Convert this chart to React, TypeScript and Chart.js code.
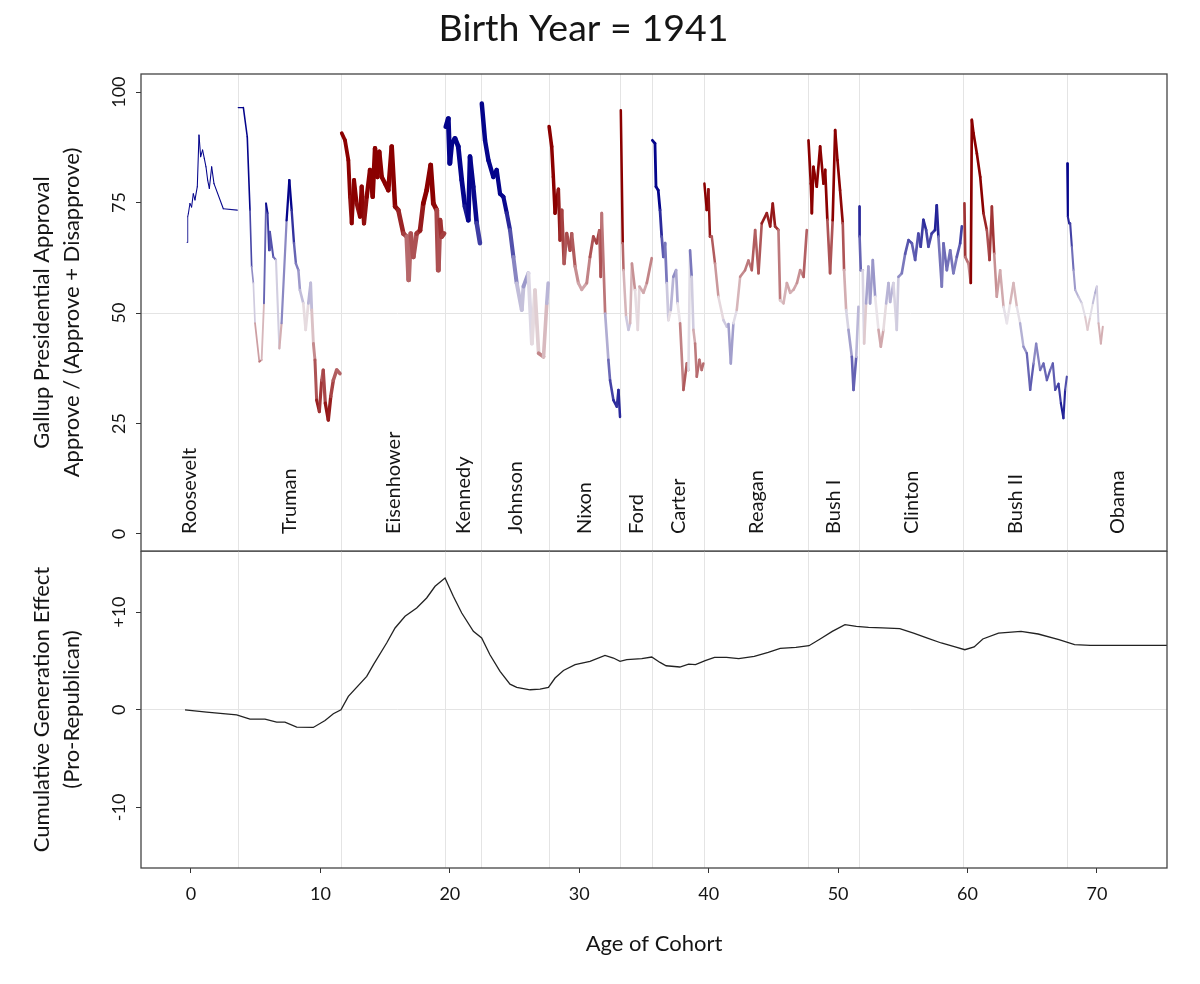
import { useEffect, useRef } from 'react';
import { Chart, registerables } from 'chart.js';

Chart.register(...registerables);

// ---------------- data ----------------
const PRESIDENTS = ['Roosevelt', 'Truman', 'Eisenhower', 'Kennedy', 'Johnson', 'Nixon', 'Ford', 'Carter', 'Reagan', 'Bush I', 'Clinton', 'Bush II', 'Obama'];
const PARTIES = ['D', 'D', 'R', 'D', 'D', 'R', 'R', 'D', 'R', 'R', 'D', 'R', 'D'];
// age of cohort (born 1941) when each term started
const TERM_STARTS = [-8.4, 3.66, 11.65, 19.65, 22.47, 27.67, 33.21, 35.65, 39.67, 47.71, 51.65, 59.69, 67.7];

// [age of cohort, approval %]
const ROOSEVELT = [[-0.3, 66], [-0.25, 71.8], [-0.2, 72.5], [-0.08, 74.8], [0.05, 74], [0.18, 77], [0.31, 75.6], [0.49, 78.6], [0.62, 90.3], [0.75, 85.4], [0.9, 86.9], [1.03, 85], [1.16, 83.1], [1.29, 80.1], [1.42, 78.2], [1.6, 83.1], [1.78, 79.3], [2.5, 73.6], [3.58, 73.3]];
const TRUMAN = [[3.66, 96.5], [4.05, 96.5], [4.35, 89.9], [4.56, 73.3], [4.69, 60.5], [4.82, 56.8], [4.95, 47.7], [5.28, 39], [5.46, 39.4], [5.64, 52.2], [5.8, 74.8], [5.92, 72.6], [6.03, 64.2], [6.1, 68.4], [6.36, 62.7], [6.57, 62], [6.83, 42], [7.0, 47.7], [7.39, 71], [7.6, 80.1], [7.78, 73.3], [7.96, 65.8], [8.11, 61.2], [8.3, 59.7], [8.42, 55.2], [8.68, 52.2], [8.86, 46.2], [9.07, 52.2], [9.25, 56.8], [9.33, 50.7], [9.46, 43.1], [9.58, 39.4], [9.71, 30.3], [9.92, 27.7], [10.1, 34.8], [10.22, 37.1], [10.38, 29.6], [10.61, 25.8], [10.8, 31.1], [11.0, 34.8], [11.26, 37.1], [11.51, 36.3]];
const EISENHOWER = [[11.65, 90.7], [11.9, 89.1], [12.16, 84.6], [12.29, 76.3], [12.42, 70.3], [12.6, 80.1], [12.8, 74.8], [13.06, 71.8], [13.19, 78.6], [13.37, 70.3], [13.58, 76.3], [13.83, 82.4], [14.04, 76.3], [14.22, 87.3], [14.4, 80.8], [14.55, 86.5], [14.74, 80.8], [15.0, 79.3], [15.25, 77.8], [15.51, 87.7], [15.77, 74.1], [16.02, 73.3], [16.41, 68], [16.67, 67.3], [16.82, 57.5], [16.98, 68], [17.18, 62.7], [17.44, 68], [17.7, 68.7], [17.95, 74.8], [18.21, 77.8], [18.52, 83.5], [18.73, 74.8], [18.99, 73.3], [19.11, 59.7], [19.24, 71], [19.37, 67.3], [19.55, 68]];
const KENNEDY = [[19.7, 92.2], [19.88, 94], [20.0, 83.9], [20.15, 88.4], [20.4, 89.5], [20.65, 87.7], [20.92, 80.1], [21.17, 74.1], [21.43, 71], [21.56, 85.4], [21.81, 78.6], [22.08, 70.3], [22.33, 65.8]];
const JOHNSON = [[22.47, 97.4], [22.72, 89.1], [22.98, 84.6], [23.36, 80.8], [23.62, 82.4], [23.88, 77], [24.14, 76.3], [24.4, 72.6], [24.65, 68.8], [24.91, 62.7], [25.17, 56.7], [25.56, 50.7], [25.69, 56], [26.07, 59], [26.34, 43.1], [26.58, 55.2], [26.86, 40.9], [27.24, 40.1], [27.49, 52.2], [27.6, 56.8]];
const NIXON = [[27.67, 92.2], [27.87, 87.7], [28.0, 80.8], [28.13, 72.6], [28.39, 78], [28.52, 66.5], [28.65, 73.3], [28.83, 61.2], [29.03, 68], [29.29, 64.2], [29.42, 68], [29.68, 60.5], [29.93, 56.8], [30.19, 55.3], [30.58, 56.8], [30.83, 62.7], [31.09, 67.3], [31.35, 65.8], [31.55, 68.7], [31.66, 58.2], [31.74, 72.6], [32.0, 49.9], [32.25, 39.4], [32.38, 34.8], [32.64, 30.3], [32.9, 28.8], [33.03, 32.6], [33.15, 26.5]];
const FORD = [[33.21, 95.9], [33.36, 65.8], [33.42, 59.7], [33.62, 49.1], [33.8, 46.2], [33.93, 47.7], [34.07, 61.2], [34.31, 55.2], [34.52, 46.2], [34.65, 56], [34.96, 54.6], [35.22, 56.8], [35.6, 62.4]];
const CARTER = [[35.65, 89.1], [35.85, 88.4], [35.93, 78.6], [36.1, 77.8], [36.24, 73.3], [36.37, 67.3], [36.5, 62.7], [36.63, 65.8], [36.76, 56.8], [36.89, 48.4], [37.07, 50.7], [37.27, 58.2], [37.48, 59.7], [37.6, 52.2], [37.79, 47.7], [38.05, 32.6], [38.31, 38.6], [38.44, 37.1], [38.56, 64.2], [38.69, 58.2], [38.82, 46.2], [38.95, 43.1], [39.08, 35.6], [39.28, 39.4], [39.46, 37.1], [39.59, 38.6]];
const REAGAN = [[39.67, 79.3], [39.85, 73.3], [39.98, 78], [40.1, 67.3], [40.24, 67.3], [40.49, 61.2], [40.75, 53.7], [41.14, 48.4], [41.4, 46.9], [41.53, 47.5], [41.71, 38.6], [41.91, 47.7], [42.17, 50.7], [42.43, 58.2], [42.81, 59.7], [43.07, 61.9], [43.33, 59.7], [43.59, 68.8], [43.85, 59], [44.1, 70.3], [44.49, 72.6], [44.75, 69.6], [44.95, 74.8], [45.13, 69.6], [45.39, 68.8], [45.52, 52.9], [45.78, 52.2], [46.04, 56.8], [46.3, 54.6], [46.56, 55.3], [46.82, 56.8], [47.07, 59.7], [47.33, 58.2], [47.58, 68.8]];
const BUSH_I = [[47.71, 89.1], [47.89, 79.3], [47.97, 72.6], [48.09, 83.1], [48.35, 78.6], [48.61, 87.7], [48.87, 79.3], [49.0, 82.4], [49.17, 71.1], [49.38, 59], [49.58, 71], [49.77, 91.4], [49.95, 84.6], [50.15, 77.8], [50.36, 70.3], [50.46, 59.7], [50.62, 50.7], [50.8, 46.2], [51.06, 40.1], [51.19, 32.6], [51.4, 40.1], [51.57, 51.4]];
const CLINTON = [[51.65, 74.1], [51.66, 67.3], [51.75, 59.7], [51.9, 59.7], [52.01, 43.1], [52.16, 52.2], [52.34, 60.5], [52.47, 52.2], [52.68, 62], [52.86, 53.7], [53.12, 46.2], [53.3, 42.4], [53.5, 46.2], [53.71, 52.2], [53.89, 56.8], [54.02, 52.5], [54.27, 56.8], [54.53, 46.2], [54.66, 58.2], [54.92, 59], [55.18, 63.4], [55.44, 66.5], [55.7, 65.8], [55.95, 62], [56.2, 68], [56.38, 65], [56.59, 71.1], [56.8, 68.8], [56.98, 65], [57.23, 68], [57.49, 68.8], [57.62, 74.4], [57.75, 67.3], [58.01, 56], [58.14, 65.8], [58.4, 59.7], [58.66, 64.2], [58.91, 59], [59.17, 62.7], [59.43, 65.8], [59.56, 69.6]];
const BUSH_II = [[59.76, 74.8], [59.82, 62.7], [60.07, 61.2], [60.25, 56.8], [60.33, 93.7], [60.46, 90.7], [60.72, 86.1], [60.98, 80.8], [61.23, 72.6], [61.49, 68.8], [61.7, 62], [61.88, 74.1], [62.06, 63.4], [62.26, 53.7], [62.52, 59.7], [62.78, 51.4], [63.04, 47.7], [63.29, 52.2], [63.55, 56.8], [63.81, 51.4], [64.06, 47.7], [64.32, 42.4], [64.58, 40.9], [64.84, 32.6], [65.1, 38.6], [65.3, 43.1], [65.61, 37.1], [65.87, 38.6], [66.13, 34.8], [66.38, 37.1], [66.59, 38.6], [66.77, 32.6], [67.03, 34], [67.21, 29.6], [67.41, 26.2], [67.54, 32.6], [67.67, 35.6]];
const OBAMA = [[67.7, 83.9], [67.75, 71.8], [67.85, 70.3], [67.93, 70.3], [68.06, 65], [68.19, 59.7], [68.32, 55.2], [68.57, 53.7], [68.83, 52.2], [69.09, 49.1], [69.27, 46.2], [69.47, 49.1], [69.68, 52.2], [69.86, 54.6], [69.99, 56], [70.12, 47.7], [70.3, 43.1], [70.45, 46.9]];
const APPROVAL = [ROOSEVELT, TRUMAN, EISENHOWER, KENNEDY, JOHNSON, NIXON, FORD, CARTER, REAGAN, BUSH_I, CLINTON, BUSH_II, OBAMA];

// [age of cohort, cumulative generation effect]
const EFFECT = [[-0.46, 0], [1.21, -0.24], [3.53, -0.51], [4.56, -0.96], [5.72, -0.96], [6.62, -1.26], [7.26, -1.26], [8.17, -1.78], [9.45, -1.81], [10.36, -1.09], [11.0, -0.41], [11.59, 0], [12.16, 1.37], [13.58, 3.42], [14.1, 4.62], [15.12, 6.84], [15.77, 8.38], [16.54, 9.57], [17.44, 10.43], [18.21, 11.45], [18.86, 12.65], [19.63, 13.5], [20.27, 11.62], [20.92, 9.91], [21.82, 8.03], [22.46, 7.35], [23.1, 5.64], [23.88, 3.93], [24.65, 2.63], [25.17, 2.29], [26.2, 2.05], [26.97, 2.12], [27.62, 2.29], [28.13, 3.25], [28.78, 4.03], [29.68, 4.62], [30.83, 4.96], [31.99, 5.57], [32.64, 5.3], [33.15, 4.96], [33.67, 5.13], [34.83, 5.23], [35.6, 5.4], [36.24, 4.85], [36.71, 4.51], [37.77, 4.38], [38.45, 4.68], [38.98, 4.62], [39.73, 5.03], [40.45, 5.37], [41.38, 5.37], [42.32, 5.23], [43.52, 5.47], [44.6, 5.88], [45.53, 6.29], [46.74, 6.39], [47.75, 6.56], [48.61, 7.25], [49.55, 8.03], [50.53, 8.72], [51.41, 8.55], [52.35, 8.44], [53.42, 8.38], [54.76, 8.31], [55.83, 7.86], [56.9, 7.35], [57.97, 6.84], [59.04, 6.43], [59.79, 6.15], [60.51, 6.43], [61.18, 7.25], [62.39, 7.86], [64.13, 8.03], [65.46, 7.76], [67.06, 7.18], [68.27, 6.67], [69.48, 6.6], [75.41, 6.6]];

const X_TICKS = [0, 10, 20, 30, 40, 50, 60, 70];
const APPROVAL_TICKS = [0, 25, 50, 75, 100];
const EFFECT_TICKS = [-10, 0, 10];

// ---------------- axis ranges & styles ----------------
const X_MIN = -3.86;
const X_MAX = 75.41;
const FONT = 'Lato, "Open Sans", "DejaVu Sans", sans-serif';
const GRID = '#e4e4e4';
const TICK = '#333333';
const TEXT = '#151515';
const CLEAR = 'rgba(0,0,0,0)';

Chart.defaults.font.family = FONT;

const WIDTH_KNOTS = [[-4, 1], [3.6, 1.1], [4, 1.5], [8, 2.4], [11, 3.5], [14, 4.4], [20, 4.9], [22.5, 4.5], [27.5, 3.6], [33, 2.5], [36, 2.8], [40, 2.5], [48, 2.7], [52, 2.6], [60, 2.7], [68, 2.1], [76, 1.8]];
function widthAt(age: number): number {
  for (let i = 1; i < WIDTH_KNOTS.length; i++) {
    const [a0, w0] = WIDTH_KNOTS[i - 1];
    const [a1, w1] = WIDTH_KNOTS[i];
    if (age <= a1) return w0 + ((Math.max(age, a0) - a0) / (a1 - a0)) * (w1 - w0);
  }
  return WIDTH_KNOTS[WIDTH_KNOTS.length - 1][1];
}

function colorFor(v: number, party: string): string {
  const d = (v - 50) * (party === 'R' ? 1 : -1);
  const t = Math.pow(Math.min(1, Math.abs(d) / 25), 0.9);
  const base = [234, 229, 234];
  const dark = d >= 0 ? [139, 0, 0] : [4, 4, 139];
  const c = base.map((b, k) => Math.round(b + (dark[k] - b) * t));
  return `rgb(${c[0]},${c[1]},${c[2]})`;
}

const framePlugin = {
  id: 'frame',
  afterDraw(chart: any) {
    const { ctx, chartArea: a } = chart;
    ctx.save();
    ctx.strokeStyle = '#444444';
    ctx.lineWidth = 1.3;
    ctx.strokeRect(a.left, a.top, a.right - a.left, a.bottom - a.top);
    ctx.restore();
  },
};

const presidentLabels = {
  id: 'presidentLabels',
  afterDatasetsDraw(chart: any) {
    const xs = chart.scales.x;
    const ys = chart.scales.y;
    const ctx = chart.ctx;
    ctx.save();
    ctx.font = `20px ${FONT}`;
    ctx.fillStyle = TEXT;
    ctx.textAlign = 'left';
    ctx.textBaseline = 'middle';
    PRESIDENTS.forEach((name, i) => {
      const start = Math.max(TERM_STARTS[i], xs.min);
      const end = i + 1 < TERM_STARTS.length ? TERM_STARTS[i + 1] : xs.max;
      const px = xs.getPixelForValue((start + end) / 2);
      const py = ys.getPixelForValue(0);
      ctx.save();
      ctx.translate(px, py);
      ctx.rotate(-Math.PI / 2);
      ctx.fillText(name, 0, 0);
      ctx.restore();
    });
    ctx.restore();
  },
};

function yTickOptions() {
  return {
    minRotation: 90,
    maxRotation: 90,
    crossAlign: 'center' as const,
    padding: 1,
    font: { size: 18 },
    color: TEXT,
  };
}

export default function App() {
  const topRef = useRef<HTMLCanvasElement>(null);
  const bottomRef = useRef<HTMLCanvasElement>(null);

  useEffect(() => {
    const topChart = new Chart(topRef.current as HTMLCanvasElement, {
      type: 'line',
      data: {
        datasets: APPROVAL.map((pts, i) => ({
          label: PRESIDENTS[i],
          data: pts.map(([x, y]) => ({ x, y })),
          borderColor: colorFor(80, PARTIES[i]),
          borderWidth: 2,
          pointRadius: 0,
          tension: 0,
          borderCapStyle: 'round',
          borderJoinStyle: 'round',
          segment: {
            borderColor: (c: any) => colorFor((c.p0.parsed.y + c.p1.parsed.y) / 2, PARTIES[i]),
            borderWidth: (c: any) => widthAt((c.p0.parsed.x + c.p1.parsed.x) / 2),
            borderCapStyle: 'round',
            borderJoinStyle: 'round',
          },
        })) as any,
      },
      options: {
        responsive: false,
        animation: false,
        events: [],
        layout: { padding: { left: 0, right: 33, top: 0, bottom: 1 } },
        plugins: {
          legend: { display: false },
          tooltip: { enabled: false },
          title: {
            display: true,
            text: 'Birth Year = 1941',
            color: TEXT,
            font: { size: 37.5, weight: 'normal' as any, lineHeight: 1.2 },
            padding: { top: 6, bottom: 23 },
          },
        },
        scales: {
          x: {
            type: 'linear',
            min: X_MIN,
            max: X_MAX,
            afterBuildTicks: (s: any) => {
              s.ticks = TERM_STARTS.slice(1).map((v) => ({ value: v }));
            },
            ticks: { display: false },
            grid: { color: GRID, lineWidth: 1, drawTicks: false },
            border: { display: false },
            afterFit: (s: any) => {
              s.height = 0;
              s.paddingLeft = 0;
              s.paddingRight = 0;
            },
          },
          y: {
            type: 'linear',
            min: -3.85,
            max: 104.1,
            afterBuildTicks: (s: any) => {
              s.ticks = APPROVAL_TICKS.map((v) => ({ value: v }));
            },
            ticks: yTickOptions(),
            grid: {
              color: (c: any) => (c.tick && c.tick.value === 50 ? GRID : CLEAR),
              tickColor: TICK,
              tickLength: 5,
              lineWidth: 1,
            },
            border: { display: false },
            title: {
              display: true,
              text: ['Gallup Presidential Approval', 'Approve / (Approve + Disapprove)'],
              color: TEXT,
              font: { size: 22, lineHeight: 1.36 },
              padding: { top: 27, bottom: 0 },
            },
            afterFit: (s: any) => {
              s.width = 141;
              s.paddingTop = 0;
              s.paddingBottom = 0;
            },
          },
        },
      } as any,
      plugins: [framePlugin, presidentLabels],
    });

    const bottomChart = new Chart(bottomRef.current as HTMLCanvasElement, {
      type: 'line',
      data: {
        datasets: [
          {
            label: 'Cumulative Generation Effect',
            data: EFFECT.map(([x, y]) => ({ x, y })),
            borderColor: '#222222',
            borderWidth: 1.3,
            pointRadius: 0,
            tension: 0,
          },
        ] as any,
      },
      options: {
        responsive: false,
        animation: false,
        events: [],
        layout: { padding: { left: 0, right: 33, top: 0, bottom: 0 } },
        plugins: {
          legend: { display: false },
          tooltip: { enabled: false },
        },
        scales: {
          x: {
            type: 'linear',
            min: X_MIN,
            max: X_MAX,
            afterBuildTicks: (s: any) => {
              const all = [...X_TICKS, ...TERM_STARTS.slice(1)].sort((a, b) => a - b);
              s.ticks = all.map((v) => ({ value: v }));
            },
            ticks: {
              autoSkip: false,
              maxRotation: 0,
              minRotation: 0,
              padding: 10,
              font: { size: 18 },
              color: TEXT,
              callback: (v: any) => (X_TICKS.includes(v) ? String(v) : ''),
            },
            grid: {
              color: (c: any) => (c.tick && !X_TICKS.includes(c.tick.value) ? GRID : CLEAR),
              tickColor: (c: any) => (c.tick && X_TICKS.includes(c.tick.value) ? TICK : CLEAR),
              tickLength: 5,
              lineWidth: 1,
            },
            border: { display: false },
            title: {
              display: true,
              text: 'Age of Cohort',
              color: TEXT,
              font: { size: 22, lineHeight: 1.2 },
              padding: { top: 0, bottom: 27 },
            },
            afterFit: (s: any) => {
              s.height = 116;
              s.paddingLeft = 0;
              s.paddingRight = 0;
            },
          },
          y: {
            type: 'linear',
            min: -16.2,
            max: 16.26,
            afterBuildTicks: (s: any) => {
              s.ticks = EFFECT_TICKS.map((v) => ({ value: v }));
            },
            ticks: {
              ...yTickOptions(),
              callback: (v: any) => (v > 0 ? `+${v}` : String(v)),
            },
            grid: {
              color: (c: any) => (c.tick && c.tick.value === 0 ? GRID : CLEAR),
              tickColor: TICK,
              tickLength: 5,
              lineWidth: 1,
            },
            border: { display: false },
            title: {
              display: true,
              text: ['Cumulative Generation Effect', '(Pro-Republican)'],
              color: TEXT,
              font: { size: 22, lineHeight: 1.36 },
              padding: { top: 27, bottom: 0 },
            },
            afterFit: (s: any) => {
              s.width = 141;
              s.paddingTop = 0;
              s.paddingBottom = 0;
            },
          },
        },
      } as any,
      plugins: [framePlugin],
    });

    return () => {
      topChart.destroy();
      bottomChart.destroy();
    };
  }, []);

  return (
    <div style={{ position: 'absolute', left: 0, top: 0, width: 1200, height: 984, background: '#ffffff' }}>
      <canvas ref={topRef} width={1200} height={552} style={{ position: 'absolute', left: 0, top: 0 }} />
      <canvas ref={bottomRef} width={1200} height={433} style={{ position: 'absolute', left: 0, top: 551 }} />
    </div>
  );
}
